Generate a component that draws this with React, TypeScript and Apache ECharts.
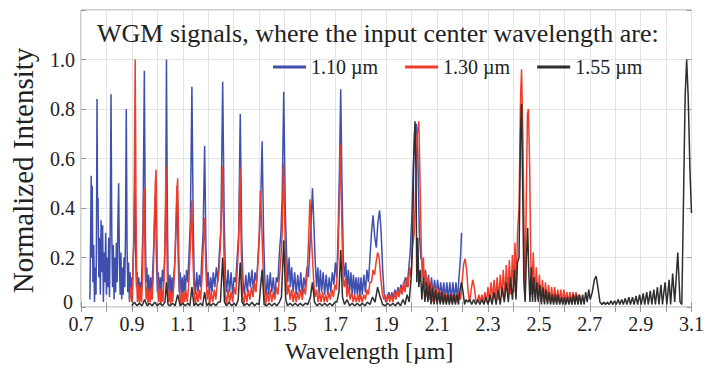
import React, { useEffect, useRef } from "react";
import * as echarts from "echarts";

const seriesNames = ["1.10 \u00b5m", "1.30 \u00b5m", "1.55 \u00b5m"];
const xTicks = [0.7, 0.9, 1.1, 1.3, 1.5, 1.7, 1.9, 2.1, 2.3, 2.5, 2.7, 2.9, 3.1];

const blueData: number[][] = [
  [0.735,0.03],[0.738,0.30],[0.740,0.53],[0.742,0.20],[0.744,0.49],[0.747,0.10],[0.750,0.25],[0.753,0.02],[0.756,0.16],[0.759,0.05],[0.761,0.30],[0.763,0.84],[0.765,0.40],[0.767,0.44],[0.770,0.12],[0.773,0.28],[0.776,0.05],[0.779,0.35],[0.782,0.14],[0.785,0.33],[0.788,0.02],[0.791,0.22],[0.794,0.10],[0.797,0.30],[0.800,0.05],[0.803,0.20],[0.806,0.08],[0.809,0.28],[0.812,0.04],[0.815,0.35],[0.818,0.86],[0.821,0.30],[0.824,0.08],[0.827,0.25],[0.830,0.03],[0.833,0.20],[0.836,0.06],[0.839,0.26],[0.842,0.10],[0.845,0.34],[0.848,0.50],[0.851,0.18],[0.854,0.05],[0.857,0.22],[0.860,0.03],[0.863,0.16],[0.866,0.05],[0.869,0.20],[0.872,0.08],[0.875,0.30],[0.878,0.80],[0.881,0.25],[0.884,0.06],[0.887,0.18],[0.890,0.03],[0.893,0.14],[0.896,0.05],[0.899,0.12],[0.902,0.02],[0.905,0.20],[0.909,0.28],[0.912,0.55],[0.915,0.20],[0.918,0.08],[0.921,0.14],[0.924,0.03],[0.927,0.12],[0.930,0.05],[0.933,0.10],[0.936,0.04],[0.940,0.18],[0.944,0.35],[0.949,0.955],[0.953,0.30],[0.956,0.10],[0.959,0.16],[0.962,0.04],[0.966,0.13],[0.970,0.05],[0.974,0.12],[0.978,0.03],[0.982,0.15],[0.986,0.25],[0.990,0.40],[0.993,0.46],[0.996,0.22],[1.000,0.06],[1.004,0.14],[1.008,0.04],[1.012,0.12],[1.016,0.05],[1.020,0.15],[1.025,0.10],[1.029,0.20],[1.033,0.40],[1.036,1.0],[1.039,0.45],[1.042,0.14],[1.046,0.06],[1.050,0.13],[1.054,0.04],[1.058,0.12],[1.062,0.05],[1.066,0.14],[1.070,0.20],[1.074,0.32],[1.078,0.49],[1.082,0.20],[1.086,0.06],[1.090,0.14],[1.094,0.05],[1.098,0.12],[1.102,0.04],[1.106,0.13],[1.110,0.06],[1.115,0.15],[1.120,0.10],[1.125,0.22],[1.130,0.35],[1.136,0.89],[1.141,0.35],[1.145,0.12],[1.150,0.05],[1.155,0.14],[1.160,0.06],[1.165,0.13],[1.170,0.08],[1.175,0.20],[1.180,0.30],[1.186,0.65],[1.191,0.25],[1.196,0.08],[1.200,0.14],[1.205,0.05],[1.210,0.12],[1.215,0.06],[1.220,0.14],[1.226,0.08],[1.232,0.16],[1.238,0.10],[1.244,0.22],[1.250,0.32],[1.257,0.91],[1.263,0.35],[1.268,0.12],[1.273,0.06],[1.278,0.15],[1.284,0.06],[1.290,0.14],[1.296,0.05],[1.302,0.12],[1.308,0.10],[1.314,0.20],[1.320,0.30],[1.326,0.78],[1.332,0.28],[1.337,0.10],[1.342,0.05],[1.348,0.13],[1.354,0.06],[1.360,0.14],[1.366,0.08],[1.372,0.15],[1.378,0.06],[1.384,0.14],[1.390,0.10],[1.396,0.20],[1.402,0.30],[1.406,0.40],[1.412,0.67],[1.418,0.28],[1.423,0.10],[1.428,0.04],[1.433,0.13],[1.438,0.05],[1.444,0.14],[1.450,0.06],[1.456,0.12],[1.462,0.04],[1.468,0.12],[1.474,0.10],[1.480,0.22],[1.486,0.30],[1.491,0.45],[1.497,0.87],[1.503,0.40],[1.508,0.22],[1.513,0.10],[1.518,0.20],[1.523,0.08],[1.528,0.16],[1.534,0.06],[1.540,0.14],[1.546,0.05],[1.552,0.13],[1.558,0.06],[1.564,0.14],[1.570,0.05],[1.576,0.12],[1.582,0.08],[1.588,0.16],[1.594,0.12],[1.600,0.25],[1.605,0.35],[1.610,0.48],[1.616,0.32],[1.621,0.18],[1.626,0.08],[1.631,0.16],[1.636,0.05],[1.641,0.15],[1.646,0.06],[1.652,0.14],[1.658,0.05],[1.664,0.13],[1.670,0.05],[1.676,0.12],[1.682,0.06],[1.688,0.14],[1.694,0.09],[1.700,0.18],[1.706,0.12],[1.712,0.35],[1.716,0.55],[1.721,0.88],[1.726,0.50],[1.731,0.20],[1.736,0.12],[1.741,0.18],[1.746,0.07],[1.751,0.15],[1.756,0.06],[1.761,0.14],[1.766,0.05],[1.771,0.13],[1.776,0.05],[1.781,0.12],[1.786,0.05],[1.791,0.12],[1.796,0.04],[1.801,0.12],[1.806,0.05],[1.812,0.13],[1.818,0.06],[1.824,0.15],[1.830,0.10],[1.836,0.20],[1.842,0.30],[1.848,0.37],[1.855,0.28],[1.861,0.24],[1.867,0.34],[1.874,0.39],[1.880,0.30],[1.886,0.15],[1.892,0.05],[1.898,0.02],[1.904,0.04],[1.910,0.06],[1.916,0.03],[1.922,0.06],[1.928,0.03],[1.934,0.07],[1.940,0.04],[1.946,0.08],[1.952,0.05],[1.958,0.09],[1.964,0.06],[1.970,0.10],[1.976,0.12],[1.982,0.08],[1.988,0.15],[1.994,0.22],[2.000,0.35],[2.006,0.55],[2.012,0.72],[2.018,0.74],[2.024,0.62],[2.030,0.30],[2.036,0.20],[2.042,0.18],[2.048,0.10],[2.054,0.15],[2.060,0.07],[2.066,0.13],[2.072,0.06],[2.078,0.12],[2.084,0.05],[2.090,0.11],[2.096,0.05],[2.102,0.11],[2.108,0.04],[2.114,0.10],[2.120,0.04],[2.126,0.10],[2.132,0.03],[2.138,0.10],[2.144,0.03],[2.150,0.10],[2.156,0.03],[2.162,0.10],[2.168,0.03],[2.174,0.10],[2.180,0.03],[2.186,0.12],[2.192,0.20],[2.196,0.30]
];

const redData: number[][] = [
  [0.890,0.02],[0.895,0.08],[0.899,0.02],[0.903,0.10],[0.907,0.25],[0.910,0.55],[0.913,1.0],[0.916,0.45],[0.919,0.10],[0.922,0.02],[0.926,0.09],[0.930,0.01],[0.934,0.08],[0.938,0.02],[0.942,0.12],[0.946,0.45],[0.949,0.48],[0.952,0.15],[0.956,0.03],[0.960,0.08],[0.964,0.01],[0.968,0.07],[0.972,0.02],[0.976,0.08],[0.980,0.03],[0.984,0.12],[0.988,0.30],[0.992,0.50],[0.995,0.555],[0.998,0.30],[1.002,0.06],[1.006,0.02],[1.010,0.08],[1.014,0.01],[1.018,0.07],[1.022,0.02],[1.026,0.10],[1.030,0.25],[1.034,0.57],[1.037,0.30],[1.040,0.08],[1.044,0.02],[1.048,0.07],[1.052,0.01],[1.056,0.06],[1.060,0.02],[1.064,0.08],[1.068,0.15],[1.072,0.30],[1.076,0.45],[1.080,0.52],[1.084,0.25],[1.088,0.05],[1.092,0.01],[1.096,0.06],[1.100,0.01],[1.104,0.06],[1.108,0.02],[1.112,0.07],[1.118,0.02],[1.124,0.10],[1.130,0.25],[1.135,0.43],[1.140,0.20],[1.145,0.05],[1.150,0.01],[1.155,0.06],[1.160,0.02],[1.165,0.07],[1.170,0.03],[1.176,0.12],[1.181,0.25],[1.186,0.36],[1.191,0.15],[1.196,0.03],[1.201,0.07],[1.206,0.01],[1.212,0.06],[1.218,0.02],[1.224,0.07],[1.230,0.03],[1.236,0.10],[1.242,0.14],[1.248,0.25],[1.253,0.40],[1.257,0.57],[1.262,0.22],[1.267,0.05],[1.272,0.01],[1.278,0.07],[1.284,0.02],[1.290,0.06],[1.296,0.02],[1.302,0.08],[1.308,0.05],[1.314,0.14],[1.320,0.27],[1.325,0.565],[1.330,0.22],[1.335,0.05],[1.340,0.01],[1.346,0.06],[1.352,0.02],[1.358,0.07],[1.364,0.03],[1.370,0.08],[1.376,0.04],[1.382,0.10],[1.388,0.06],[1.394,0.15],[1.400,0.28],[1.405,0.47],[1.410,0.35],[1.415,0.18],[1.420,0.05],[1.426,0.01],[1.432,0.06],[1.438,0.02],[1.444,0.07],[1.450,0.02],[1.456,0.06],[1.462,0.03],[1.468,0.08],[1.474,0.05],[1.480,0.12],[1.486,0.20],[1.491,0.30],[1.496,0.58],[1.501,0.35],[1.506,0.15],[1.511,0.05],[1.516,0.09],[1.522,0.03],[1.528,0.07],[1.534,0.02],[1.540,0.06],[1.546,0.02],[1.552,0.06],[1.558,0.03],[1.564,0.07],[1.570,0.03],[1.576,0.08],[1.582,0.05],[1.588,0.12],[1.594,0.25],[1.600,0.435],[1.605,0.30],[1.610,0.20],[1.615,0.10],[1.620,0.04],[1.626,0.07],[1.632,0.02],[1.638,0.06],[1.644,0.02],[1.650,0.06],[1.656,0.02],[1.662,0.05],[1.668,0.02],[1.674,0.06],[1.680,0.03],[1.686,0.07],[1.692,0.04],[1.698,0.09],[1.704,0.07],[1.710,0.20],[1.715,0.40],[1.720,0.655],[1.725,0.35],[1.730,0.12],[1.735,0.08],[1.740,0.12],[1.746,0.04],[1.752,0.08],[1.758,0.03],[1.764,0.06],[1.770,0.02],[1.776,0.05],[1.782,0.02],[1.788,0.05],[1.794,0.02],[1.800,0.05],[1.806,0.02],[1.812,0.05],[1.818,0.03],[1.824,0.07],[1.830,0.05],[1.836,0.10],[1.842,0.10],[1.848,0.15],[1.854,0.13],[1.860,0.18],[1.866,0.22],[1.872,0.20],[1.878,0.12],[1.884,0.06],[1.890,0.03],[1.896,0.05],[1.902,0.02],[1.908,0.05],[1.914,0.02],[1.920,0.05],[1.926,0.02],[1.932,0.06],[1.938,0.03],[1.944,0.07],[1.950,0.04],[1.956,0.08],[1.962,0.05],[1.968,0.10],[1.974,0.06],[1.980,0.12],[1.986,0.08],[1.992,0.16],[1.998,0.12],[2.004,0.25],[2.010,0.30],[2.016,0.50],[2.022,0.70],[2.028,0.75],[2.034,0.45],[2.038,0.22],[2.042,0.12],[2.046,0.20],[2.050,0.08],[2.055,0.14],[2.060,0.04],[2.065,0.12],[2.070,0.03],[2.075,0.10],[2.080,0.02],[2.085,0.09],[2.090,0.02],[2.095,0.08],[2.100,0.02],[2.105,0.07],[2.110,0.02],[2.115,0.06],[2.120,0.02],[2.126,0.06],[2.132,0.02],[2.138,0.05],[2.144,0.02],[2.150,0.05],[2.156,0.02],[2.162,0.05],[2.168,0.02],[2.174,0.05],[2.180,0.02],[2.186,0.06],[2.192,0.03],[2.198,0.10],[2.204,0.17],[2.210,0.195],[2.216,0.15],[2.222,0.06],[2.228,0.02],[2.234,0.07],[2.240,0.11],[2.246,0.08],[2.252,0.03],[2.258,0.02],[2.264,0.05],[2.270,0.02],[2.276,0.05],[2.282,0.02],[2.288,0.06],[2.294,0.02],[2.300,0.08],[2.306,0.02],[2.312,0.10],[2.318,0.03],[2.324,0.11],[2.330,0.03],[2.336,0.12],[2.342,0.03],[2.348,0.13],[2.354,0.04],[2.360,0.15],[2.366,0.04],[2.372,0.17],[2.378,0.05],[2.384,0.19],[2.390,0.05],[2.396,0.21],[2.401,0.06],[2.406,0.26],[2.411,0.08],[2.416,0.30],[2.422,0.40],[2.428,0.85],[2.432,0.96],[2.437,0.70],[2.442,0.30],[2.446,0.05],[2.450,0.40],[2.455,0.78],[2.459,0.80],[2.464,0.55],[2.468,0.20],[2.472,0.05],[2.478,0.22],[2.484,0.04],[2.490,0.16],[2.496,0.03],[2.502,0.13],[2.508,0.02],[2.514,0.11],[2.520,0.02],[2.526,0.10],[2.532,0.02],[2.538,0.09],[2.544,0.02],[2.550,0.08],[2.556,0.02],[2.562,0.08],[2.568,0.02],[2.574,0.07],[2.580,0.02],[2.586,0.07],[2.592,0.02],[2.598,0.07],[2.604,0.02],[2.610,0.06],[2.616,0.02],[2.622,0.06],[2.628,0.02],[2.634,0.06],[2.640,0.02],[2.646,0.06],[2.652,0.02],[2.658,0.05],[2.662,0.03]
];

const blackData: number[][] = [
  [0.900,0.005],[0.910,0.02],[0.920,0.005],[0.930,0.015],[0.940,0.005],[0.950,0.03],[0.960,0.005],[0.970,0.015],[0.980,0.005],[0.990,0.02],[1.000,0.005],[1.010,0.015],[1.020,0.005],[1.030,0.02],[1.036,0.10],[1.042,0.01],[1.050,0.005],[1.060,0.015],[1.070,0.005],[1.080,0.05],[1.090,0.005],[1.100,0.015],[1.110,0.005],[1.120,0.015],[1.128,0.005],[1.136,0.08],[1.144,0.005],[1.152,0.015],[1.160,0.005],[1.170,0.015],[1.178,0.005],[1.186,0.06],[1.194,0.005],[1.202,0.015],[1.210,0.005],[1.220,0.015],[1.230,0.005],[1.240,0.02],[1.248,0.02],[1.257,0.20],[1.264,0.02],[1.272,0.005],[1.282,0.02],[1.292,0.005],[1.302,0.015],[1.310,0.005],[1.318,0.03],[1.326,0.18],[1.333,0.02],[1.342,0.005],[1.352,0.015],[1.362,0.005],[1.372,0.02],[1.382,0.005],[1.392,0.015],[1.400,0.01],[1.412,0.15],[1.420,0.01],[1.430,0.005],[1.440,0.015],[1.450,0.005],[1.460,0.015],[1.470,0.005],[1.480,0.02],[1.488,0.04],[1.497,0.27],[1.505,0.03],[1.512,0.005],[1.522,0.015],[1.532,0.005],[1.542,0.015],[1.552,0.005],[1.562,0.015],[1.572,0.005],[1.582,0.015],[1.592,0.01],[1.602,0.04],[1.610,0.10],[1.618,0.02],[1.628,0.005],[1.638,0.015],[1.648,0.005],[1.658,0.015],[1.668,0.005],[1.678,0.015],[1.688,0.005],[1.698,0.02],[1.706,0.02],[1.714,0.06],[1.721,0.23],[1.728,0.04],[1.736,0.01],[1.746,0.03],[1.756,0.005],[1.766,0.015],[1.776,0.005],[1.786,0.015],[1.796,0.005],[1.806,0.015],[1.816,0.005],[1.826,0.02],[1.836,0.01],[1.846,0.04],[1.856,0.02],[1.866,0.08],[1.876,0.04],[1.886,0.01],[1.896,0.005],[1.906,0.015],[1.916,0.005],[1.926,0.015],[1.936,0.005],[1.946,0.02],[1.956,0.005],[1.966,0.03],[1.974,0.01],[1.982,0.05],[1.990,0.02],[1.998,0.12],[2.004,0.30],[2.008,0.60],[2.013,0.75],[2.017,0.55],[2.020,0.10],[2.024,0.28],[2.028,0.08],[2.034,0.15],[2.040,0.03],[2.046,0.12],[2.052,0.02],[2.058,0.10],[2.064,0.02],[2.070,0.09],[2.076,0.01],[2.082,0.08],[2.088,0.01],[2.094,0.07],[2.100,0.01],[2.106,0.06],[2.112,0.01],[2.118,0.06],[2.124,0.01],[2.130,0.05],[2.136,0.01],[2.142,0.05],[2.148,0.01],[2.154,0.05],[2.160,0.01],[2.166,0.05],[2.172,0.01],[2.178,0.05],[2.184,0.01],[2.190,0.07],[2.196,0.10],[2.202,0.06],[2.208,0.01],[2.214,0.03],[2.220,0.02],[2.228,0.03],[2.236,0.01],[2.244,0.03],[2.252,0.01],[2.260,0.03],[2.268,0.01],[2.276,0.03],[2.284,0.01],[2.292,0.04],[2.300,0.01],[2.308,0.05],[2.316,0.01],[2.324,0.06],[2.332,0.01],[2.340,0.07],[2.348,0.01],[2.356,0.08],[2.364,0.02],[2.372,0.10],[2.380,0.02],[2.388,0.12],[2.396,0.03],[2.404,0.15],[2.410,0.03],[2.416,0.18],[2.422,0.20],[2.428,0.70],[2.432,0.82],[2.436,0.50],[2.441,0.10],[2.446,0.02],[2.451,0.20],[2.456,0.32],[2.460,0.15],[2.465,0.02],[2.470,0.16],[2.475,0.02],[2.480,0.12],[2.486,0.02],[2.492,0.10],[2.498,0.02],[2.504,0.09],[2.510,0.01],[2.516,0.08],[2.522,0.01],[2.528,0.07],[2.534,0.01],[2.540,0.06],[2.546,0.01],[2.552,0.05],[2.558,0.01],[2.564,0.05],[2.570,0.01],[2.576,0.05],[2.582,0.01],[2.588,0.04],[2.594,0.01],[2.600,0.04],[2.606,0.01],[2.612,0.04],[2.618,0.01],[2.624,0.04],[2.630,0.01],[2.636,0.05],[2.642,0.01],[2.648,0.05],[2.654,0.01],[2.660,0.05],[2.666,0.01],[2.672,0.05],[2.678,0.01],[2.684,0.06],[2.690,0.02],[2.696,0.07],[2.702,0.03],[2.710,0.06],[2.718,0.11],[2.725,0.125],[2.732,0.08],[2.740,0.02],[2.748,0.01],[2.756,0.02],[2.762,0.01],[2.770,0.02],[2.776,0.01],[2.784,0.025],[2.790,0.01],[2.798,0.025],[2.804,0.01],[2.812,0.03],[2.818,0.01],[2.826,0.03],[2.832,0.01],[2.840,0.035],[2.846,0.01],[2.854,0.04],[2.860,0.01],[2.868,0.04],[2.874,0.01],[2.882,0.045],[2.888,0.01],[2.896,0.05],[2.902,0.01],[2.910,0.055],[2.916,0.01],[2.924,0.06],[2.930,0.01],[2.938,0.065],[2.944,0.01],[2.952,0.07],[2.958,0.01],[2.966,0.08],[2.972,0.01],[2.980,0.09],[2.986,0.01],[2.996,0.10],[3.003,0.01],[3.012,0.11],[3.018,0.01],[3.026,0.135],[3.034,0.02],[3.046,0.22],[3.055,0.02],[3.062,0.01],[3.068,0.40],[3.075,0.85],[3.081,1.0],[3.087,0.85],[3.094,0.55],[3.100,0.38]
];

const colors = ["#3e4fae", "#f03c2a", "#2e2e2e"];
const SERIF = "Liberation Serif";

export default function App() {
  const ref = useRef<HTMLDivElement>(null);
  useEffect(() => {
    if (!ref.current) return;
    const chart = echarts.init(ref.current, undefined, { renderer: "svg" });
    const datasets = [blueData, redData, blackData];
    chart.setOption({
      animation: false,
      backgroundColor: "#ffffff",
      title: {
        text: "WGM signals, where the input center wavelength are:",
        left: 92,
        top: 15,
        textStyle: { fontFamily: SERIF, fontSize: 26, fontWeight: "normal", color: "#222" },
      },
      legend: {
        left: 268,
        top: 52,
        itemWidth: 33,
        itemHeight: 3,
        itemGap: 27,
        icon: "rect",
        data: seriesNames,
        textStyle: { fontFamily: SERIF, fontSize: 20, color: "#222" },
      },
      grid: { left: 78, right: 13, top: 10, bottom: 62, show: true, borderColor: "#a0a0a0", borderWidth: 1, backgroundColor: "transparent" },
      xAxis: [
        {
          type: "value",
          min: 0.7,
          max: 3.1,
          interval: 0.1,
          name: "Wavelength [\u00b5m]",
          nameLocation: "middle",
          nameGap: 32,
          nameTextStyle: { fontFamily: SERIF, fontSize: 24, color: "#222", padding: [0, 34, 0, 0] },
          axisLine: { show: false },
          axisTick: { show: true, inside: true, length: 5, lineStyle: { color: "#999" } },
          splitLine: { show: true, lineStyle: { color: "#e4e4e4", width: 1 } },
          axisLabel: {
            margin: 7,
            fontFamily: SERIF,
            fontSize: 20,
            color: "#222",
            formatter: (v: number) => {
              const t = xTicks.find((x) => Math.abs(x - v) < 1e-6);
              return t !== undefined ? t.toFixed(1) : "";
            },
          },
        },
        {
          type: "value",
          position: "top",
          min: 0.7,
          max: 3.1,
          interval: 0.1,
          axisLine: { show: false },
          axisTick: { show: true, inside: true, length: 5, lineStyle: { color: "#999" } },
          axisLabel: { show: false },
          splitLine: { show: false },
        },
      ],
      yAxis: [
        {
          type: "value",
          min: 0,
          max: 1.2,
          interval: 0.2,
          name: "Normalized Intensity",
          nameLocation: "middle",
          nameGap: 44,
          nameTextStyle: { fontFamily: SERIF, fontSize: 29, color: "#222", padding: [0, 24, 0, 0] },
          axisLine: { show: false },
          axisTick: { show: true, inside: true, length: 5, lineStyle: { color: "#999" } },
          splitLine: { show: true, lineStyle: { color: "#e4e4e4", width: 1 } },
          axisLabel: {
            margin: 6,
            fontFamily: SERIF,
            fontSize: 20,
            color: "#222",
            formatter: (v: number) => (v > 1.05 ? "" : v === 0 ? "{z|0}" : v.toFixed(1)),
            rich: { z: { fontFamily: SERIF, fontSize: 20, color: "#222", padding: [0, 2, 10, 0] } },
          },
        },
        {
          type: "value",
          position: "right",
          min: 0,
          max: 1.2,
          interval: 0.2,
          axisLine: { show: false },
          axisTick: { show: true, inside: true, length: 5, lineStyle: { color: "#999" } },
          axisLabel: { show: false },
          splitLine: { show: false },
        },
      ],
      series: datasets.map((d, i) => ({
        name: seriesNames[i],
        type: "line",
        data: d,
        showSymbol: false,
        symbol: "none",
        color: colors[i],
        lineStyle: { width: 1.5, color: colors[i] },
        z: 2 + i,
      })),
    });
    return () => chart.dispose();
  }, []);
  return <div ref={ref} style={{ width: 707, height: 369, position: "absolute", left: 0, top: 0 }} />;
}
